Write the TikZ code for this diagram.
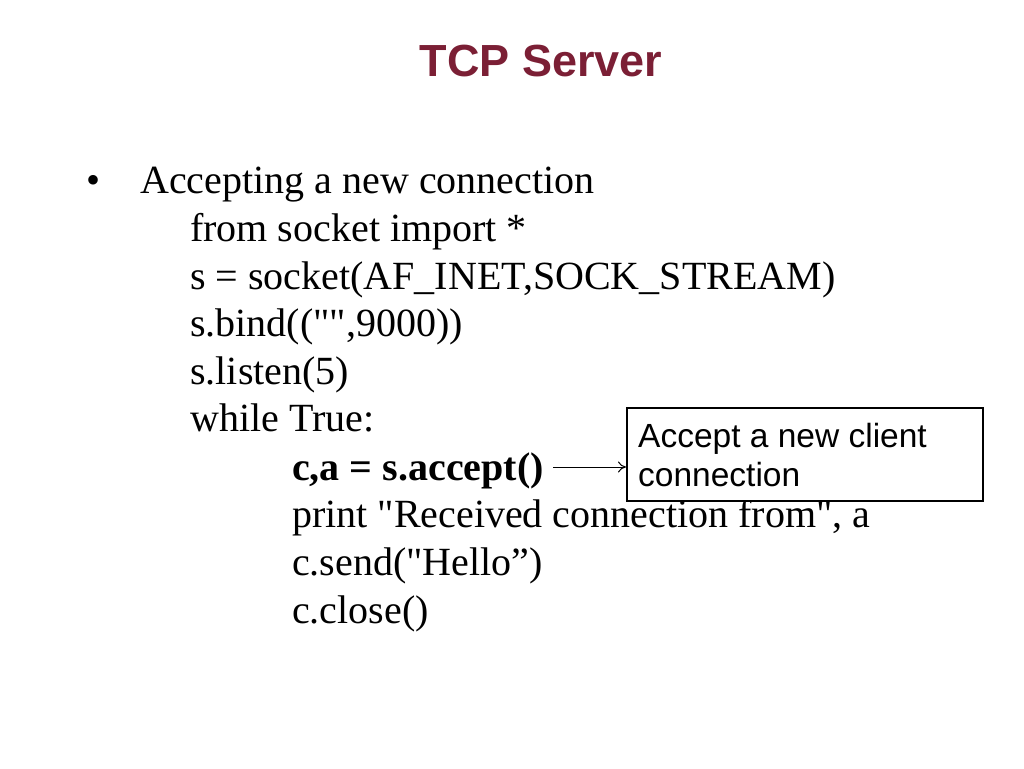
\documentclass[tikz,border=0pt]{standalone}
\usepackage{fontspec}
\setmainfont{Liberation Serif}[Ligatures=TeXOff]
\newfontfamily\arialf{Liberation Sans}
\usetikzlibrary{arrows.meta}
\definecolor{titlered}{HTML}{7B1F35}
\begin{document}
\begin{tikzpicture}[x=1pt,y=-1pt,
  code/.style={anchor=base west,inner sep=0pt,font=\fontsize{40}{48}\selectfont},
  boxtext/.style={anchor=base west,inner sep=0pt,font=\arialf\fontsize{33.5}{40}\selectfont},
  callout/.style={draw=black,line width=2.4pt,fill=white,inner sep=0pt}]
\useasboundingbox (0,0) rectangle (1024,768);
\node[anchor=base,inner sep=0pt,font=\arialf\bfseries\fontsize{45}{52}\selectfont,text=titlered] (title) at (541,77) {TCP Server};
\node[code] (bul) at (86,193) {•};
\node[code] (l1) at (140,193) {Accepting a new connection};
\node[code] (l2) at (190,241) {from socket import *};
\node[code] (l3) at (190,289) {s = socket(AF\_INET,SOCK\_STREAM)};
\node[code] (l4) at (190,336) {s.bind(("",9000))};
\node[code] (l5) at (190,384) {s.listen(5)};
\node[code] (l6) at (190,431) {while True:};
\node[code,font=\bfseries\fontsize{40}{48}\selectfont] (l7) at (292,480) {c,a = s.accept()};
\node[code] (l8) at (292,527) {print "Received connection from", a};
\node[code] (l9) at (292,575) {c.send("Hello”)};
\node[code] (l10) at (292,623) {c.close()};
\node[callout,minimum width=356pt,minimum height=93pt,anchor=north west] (box) at (626,407) {};
\node[boxtext] (b1) at (638,447) {Accept a new client};
\node[boxtext] (b2) at (638,486) {connection};
\coordinate (as) at (553,467);
\draw[-{To[length=8pt,width=11pt]},line width=1pt] (as) -- (as -| box.west);
\end{tikzpicture}
\end{document}
